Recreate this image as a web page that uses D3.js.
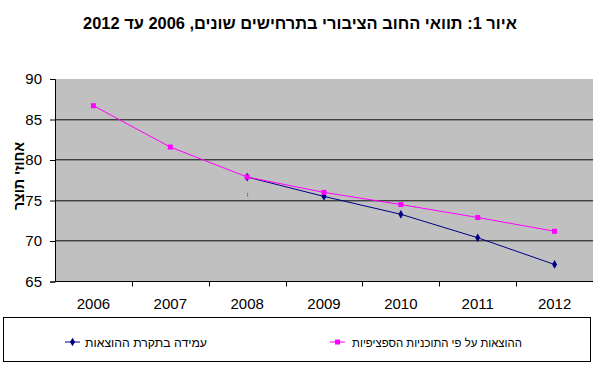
<!DOCTYPE html>
<html lang="he">
<head>
  <meta charset="UTF-8" />
  <title>תוואי החוב הציבורי</title>
  <script src="https://d3js.org/d3.v7.min.js"></script>
  <style>
    body { margin: 0; background: #fff; font-family: 'Liberation Sans', Arial, sans-serif; }
  </style>
</head>
<body>
  <svg id="chart" width="600" height="366"></svg>
  <script>
    const years = ["2006", "2007", "2008", "2009", "2010", "2011", "2012"];
    const specificPlans = [86.7, 81.6, 77.9, 76.0, 74.5, 72.9, 71.2];
    const ceilingYears = ["2008", "2009", "2010", "2011", "2012"];
    const ceilingValues = [77.9, 75.5, 73.3, 70.4, 67.1];
    const yTicks = [65, 70, 75, 80, 85, 90];

    const titleText = "איור 1: תוואי החוב הציבורי בתרחישים שונים, 2006 עד 2012";
    const yLabel = "אחוזי תוצר";
    const seriesNames = ["עמידה בתקרת ההוצאות", "ההוצאות על פי התוכניות הספציפיות"];

    const font = "'Liberation Sans', Arial, sans-serif";
    const plotLeft = 55, plotRight = 593, plotTop = 79, plotBottom = 281.5;
    const navy = "#000080", pink = "#ff00ff";

    const svg = d3.select("#chart").style("font-family", font);

    const x = d3.scaleBand().domain(years).range([plotLeft, plotRight]);
    const y = d3.scaleLinear().domain([65, 90]).range([plotBottom, plotTop]);

    // shrink/grow a text's font size so it spans the wanted width
    function fitWidth(sel, target) {
      const fs = +sel.attr("font-size");
      const w = sel.node().getComputedTextLength();
      if (w > 0) sel.attr("font-size", (fs * target / w).toFixed(2));
    }

    // title
    const title = svg.append("text")
      .attr("x", 300).attr("y", 29)
      .attr("text-anchor", "middle")
      .attr("direction", "rtl")
      .attr("font-size", 15).attr("font-weight", "bold")
      .text(titleText);
    fitWidth(title, 434);

    // plot background
    svg.append("rect")
      .attr("x", plotLeft).attr("y", plotTop)
      .attr("width", plotRight - plotLeft).attr("height", plotBottom - plotTop)
      .attr("fill", "#c0c0c0");

    // gridlines
    const grid = svg.append("g");
    yTicks.filter(t => t > 65 && t < 90).forEach(t => {
      const gy = Math.round(y(t));
      grid.append("line").attr("x1", plotLeft).attr("x2", plotRight)
        .attr("y1", gy - 0.5).attr("y2", gy - 0.5)
        .attr("stroke", "#404040");
      grid.append("line").attr("x1", plotLeft).attr("x2", plotRight)
        .attr("y1", gy + 0.5).attr("y2", gy + 0.5)
        .attr("stroke", "#8a8a8a");
    });

    // y axis
    const yAxis = svg.append("g")
      .attr("transform", `translate(${plotLeft},0)`)
      .call(d3.axisLeft(y).tickValues(yTicks).tickSize(5).tickPadding(8));
    yAxis.select(".domain").attr("stroke", "#000");
    yAxis.selectAll(".tick line").attr("stroke", "#000");
    yAxis.selectAll("text").attr("font-size", 15).attr("font-family", font).attr("fill", "#000");

    // x axis
    const xAxis = svg.append("g")
      .attr("transform", `translate(0,${plotBottom})`)
      .call(d3.axisBottom(x).tickSize(0).tickPadding(17));
    xAxis.select(".domain").remove();
    xAxis.selectAll("text").attr("font-size", 15).attr("font-family", font).attr("fill", "#000");
    svg.append("line").attr("x1", plotLeft).attr("x2", plotRight)
      .attr("y1", plotBottom).attr("y2", plotBottom).attr("stroke", "#000");
    years.slice(1).forEach(yr => {
      svg.append("line")
        .attr("x1", Math.round(x(yr)) + 0.5).attr("x2", Math.round(x(yr)) + 0.5)
        .attr("y1", plotBottom).attr("y2", plotBottom + 5).attr("stroke", "#000");
    });

    // y label
    const yl = svg.append("text")
      .attr("transform", `translate(24,176) rotate(-90)`)
      .attr("text-anchor", "middle")
      .attr("direction", "rtl")
      .attr("font-size", 13).attr("font-weight", "bold")
      .text(yLabel);
    fitWidth(yl, 68);

    const cx = d => x(d) + x.bandwidth() / 2;
    const line = d3.line().x(d => cx(d[0])).y(d => y(d[1]));

    const pinkData = years.map((yr, i) => [yr, specificPlans[i]]);
    const navyData = ceilingYears.map((yr, i) => [yr, ceilingValues[i]]);

    svg.append("path").datum(navyData).attr("d", line)
      .attr("fill", "none").attr("stroke", navy).attr("stroke-width", 1);
    svg.append("path").datum(pinkData).attr("d", line)
      .attr("fill", "none").attr("stroke", pink).attr("stroke-width", 1);

    const diamond = d3.symbol().type(d3.symbolDiamond).size(22);
    svg.selectAll(".navy-pt").data(navyData).join("path")
      .attr("transform", d => `translate(${cx(d[0])},${y(d[1])})`)
      .attr("d", diamond).attr("fill", navy);
    svg.selectAll(".pink-pt").data(pinkData).join("rect")
      .attr("x", d => cx(d[0]) - 2.5).attr("y", d => y(d[1]) - 2.5)
      .attr("width", 5).attr("height", 5).attr("fill", pink);

    // small artefact under 2008 point
    svg.append("line")
      .attr("x1", cx("2008") + 0.5).attr("x2", cx("2008") + 0.5)
      .attr("y1", y(75.9)).attr("y2", y(75.4))
      .attr("stroke", "#333").attr("stroke-dasharray", "1,1");

    // legend
    svg.append("rect")
      .attr("x", 3.5).attr("y", 317.5).attr("width", 587).attr("height", 44)
      .attr("fill", "#fff").attr("stroke", "#000");

    const legendItems = [
      { name: seriesNames[0], color: navy, mx: 65, x0: 85, x1: 207, shape: "diamond" },
      { name: seriesNames[1], color: pink, mx: 330, x0: 352, x1: 522, shape: "square" }
    ];
    const ly = 342;
    legendItems.forEach(it => {
      svg.append("line").attr("x1", it.mx).attr("x2", it.mx + 15)
        .attr("y1", ly).attr("y2", ly).attr("stroke", it.color);
      if (it.shape === "diamond") {
        svg.append("path").attr("transform", `translate(${it.mx + 7.5},${ly})`)
          .attr("d", diamond).attr("fill", it.color);
      } else {
        svg.append("rect").attr("x", it.mx + 5).attr("y", ly - 2.5)
          .attr("width", 5).attr("height", 5).attr("fill", it.color);
      }
      const t = svg.append("text")
        .attr("x", (it.x0 + it.x1) / 2).attr("y", ly + 4.5)
        .attr("direction", "rtl").attr("text-anchor", "middle")
        .attr("font-size", 12)
        .text(it.name);
      fitWidth(t, it.x1 - it.x0);
    });
  </script>
</body>
</html>
